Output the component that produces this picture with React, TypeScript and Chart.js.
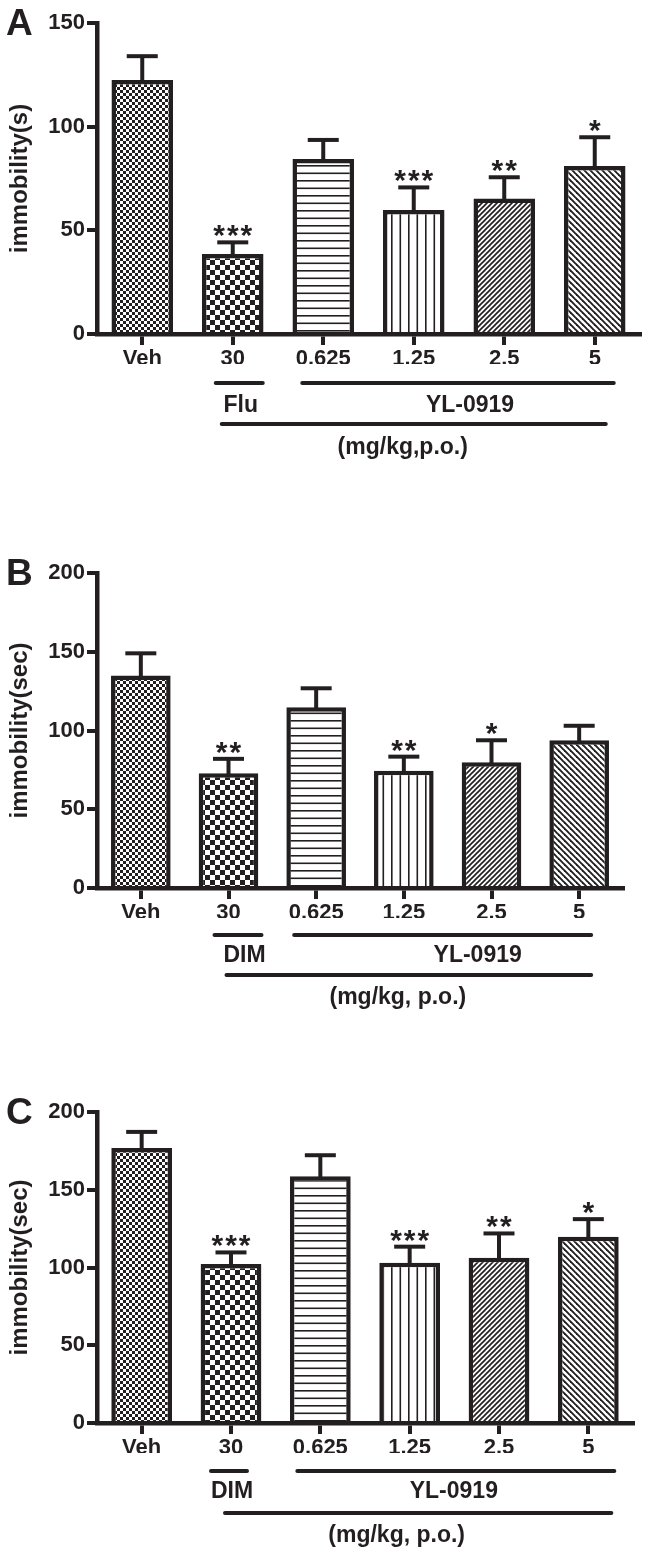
import React, { useEffect, useRef } from "react";
import { Chart, registerables } from "chart.js";

Chart.register(...registerables);

// ---------------- data ----------------
const categories = ["Veh", "30", "0.625", "1.25", "2.5", "5"];

const meansA = [122.5, 38.6, 84.4, 59.8, 65.4, 81.0];
const semA = [11.5, 5.6, 9.2, 10.9, 10.2, 13.9];
const starsA = ["", "***", "", "***", "**", "*"];
const yTicksA = [0, 50, 100, 150];

const meansB = [135.0, 72.8, 114.7, 74.5, 79.8, 93.8];
const semB = [14.0, 9.2, 12.1, 8.9, 14.0, 9.2];
const starsB = ["", "**", "", "**", "*", ""];
const yTicksB = [0, 50, 100, 150, 200];

const meansC = [176.9, 102.2, 158.7, 103.1, 106.3, 119.8];
const semC = [10.3, 7.5, 13.5, 10.3, 15.6, 11.3];
const starsC = ["", "***", "", "***", "**", "*"];
const yTicksC = [0, 50, 100, 150, 200];

const panelLetters = ["A", "B", "C"];
const yTitles = ["immobility(s)", "immobility(sec)", "immobility(sec)"];
const refDrugs = ["Flu", "DIM", "DIM"];
const testDrug = "YL-0919";
const unitLabels = ["(mg/kg,p.o.)", "(mg/kg, p.o.)", "(mg/kg, p.o.)"];

// ---------------- styling / layout ----------------
const INK = "#231f20";
const FONT = "'Liberation Sans', Arial, Helvetica, sans-serif";

const layouts = [
  { top: 0, height: 480, areaTop: 23, areaBottom: 334, areaRight: 640,
    shortL: -17, shortR: 30, ylL: -21, ylR: 19, longL: -11, longR: 11, drugDx: 8, ylDx: 12, unitDx: -11,
    lineDy: 49, drugDy: 72, longDy: 90, unitDy: 114 },
  { top: 540, height: 480, areaTop: 573, areaBottom: 888, areaRight: 623,
    shortL: -14, shortR: 33, ylL: -22, ylR: 12, longL: -2, longR: 12, drugDx: 16, ylDx: 35, unitDx: -6,
    lineDy: 47, drugDy: 68, longDy: 87, unitDy: 110 },
  { top: 1075, height: 478, areaTop: 1112, areaBottom: 1423, areaRight: 633,
    shortL: -20, shortR: 16, ylL: -23, ylR: 26, longL: -6, longR: 23, drugDx: 1, ylDx: -2, unitDx: -13,
    lineDy: 48, drugDy: 69, longDy: 90, unitDy: 113 },
];

function makePattern(kind: string): CanvasPattern | string {
  const c = document.createElement("canvas");
  const g = c.getContext("2d")!;
  const set = (w: number, h: number) => {
    c.width = w;
    c.height = h;
    g.fillStyle = "#ffffff";
    g.fillRect(0, 0, w, h);
    g.fillStyle = INK;
    g.strokeStyle = INK;
  };
  if (kind === "fineCheck") {
    set(6, 6);
    g.fillRect(0, 0, 3, 3);
    g.fillRect(3, 3, 3, 3);
  } else if (kind === "bigCheck") {
    set(10, 10);
    g.fillRect(0, 0, 5, 5);
    g.fillRect(5, 5, 5, 5);
  } else if (kind === "hlines") {
    set(4, 15);
    g.fillRect(0, 0, 4, 1.6);
    g.fillRect(0, 7.5, 4, 1.6);
  } else if (kind === "vlines") {
    set(17, 4);
    g.fillRect(0, 0, 1.6, 4);
    g.fillRect(8.5, 0, 1.6, 4);
  } else if (kind === "diagUp") {
    set(5, 5);
    g.lineWidth = 1.7;
    for (let k = -1; k <= 1; k++) {
      g.beginPath();
      g.moveTo(-2 + k * 5, 7);
      g.lineTo(7 + k * 5, -2);
      g.stroke();
    }
  } else if (kind === "diagDown") {
    set(6, 6);
    g.lineWidth = 1.9;
    for (let k = -1; k <= 1; k++) {
      g.beginPath();
      g.moveTo(-2 + k * 6, -2);
      g.lineTo(8 + k * 6, 8);
      g.stroke();
    }
  }
  const ctx = document.createElement("canvas").getContext("2d")!;
  return ctx.createPattern(c, "repeat") || "#888";
}

const patternKinds = ["fineCheck", "bigCheck", "hlines", "vlines", "diagUp", "diagDown"];

type PanelProps = {
  idx: number;
  means: number[];
  sem: number[];
  stars: string[];
  yTicks: number[];
};

function Panel({ idx, means, sem, stars, yTicks }: PanelProps) {
  const ref = useRef<HTMLCanvasElement>(null);
  const L = layouts[idx];

  useEffect(() => {
    const canvas = ref.current!;
    const xScaleH = 30;
    const areaTop = L.areaTop - L.top;
    const areaBottom = L.areaBottom - L.top;
    const padBottom = L.height - areaBottom - xScaleH;
    const yMax = yTicks[yTicks.length - 1];

    const extras = {
      id: "extras" + idx,
      afterDatasetsDraw(chart: any) {
        const ctx: CanvasRenderingContext2D = chart.ctx;
        const meta = chart.getDatasetMeta(0);
        const ys = chart.scales.y;
        ctx.save();
        meta.data.forEach((bar: any, i: number) => {
          const x = bar.x;
          const yTop = bar.y;
          const yErr = ys.getPixelForValue(means[i] + sem[i]);
          ctx.strokeStyle = INK;
          ctx.lineWidth = 4;
          ctx.lineCap = "butt";
          ctx.beginPath();
          ctx.moveTo(x, yTop + 2);
          ctx.lineTo(x, yErr);
          ctx.stroke();
          ctx.beginPath();
          ctx.moveTo(x - 15.5, yErr);
          ctx.lineTo(x + 15.5, yErr);
          ctx.stroke();
          if (stars[i]) {
            ctx.fillStyle = INK;
            ctx.font = `bold 30px ${FONT}`;
            (ctx as any).letterSpacing = "2px";
            ctx.textAlign = "center";
            ctx.textBaseline = "alphabetic";
            ctx.fillText(stars[i], x + 1, yErr + 3);
            (ctx as any).letterSpacing = "0px";
          }
        });
        ctx.restore();
      },
      afterDraw(chart: any) {
        const ctx: CanvasRenderingContext2D = chart.ctx;
        const xs = chart.scales.x;
        const area = chart.chartArea;
        const cx = (i: number) => xs.getPixelForValue(i);
        ctx.save();
        ctx.fillStyle = INK;
        // panel letter
        ctx.font = `bold 37px ${FONT}`;
        ctx.textAlign = "left";
        ctx.textBaseline = "alphabetic";
        ctx.fillText(panelLetters[idx], 6, area.top + 12);
        // group lines
        ctx.strokeStyle = INK;
        ctx.lineWidth = 4;
        ctx.lineCap = "round";
        const b = area.bottom;
        const line = (x1: number, x2: number, y: number) => {
          ctx.beginPath();
          ctx.moveTo(x1, y);
          ctx.lineTo(x2, y);
          ctx.stroke();
        };
        line(cx(1) + L.shortL, cx(1) + L.shortR, b + L.lineDy);
        const ylA = cx(2) + L.ylL;
        const ylB = cx(5) + L.ylR;
        line(ylA, ylB, b + L.lineDy);
        line(cx(1) + L.longL, cx(5) + L.longR, b + L.longDy);
        ctx.font = `bold 23px ${FONT}`;
        ctx.textAlign = "center";
        ctx.textBaseline = "middle";
        ctx.fillText(refDrugs[idx], cx(1) + L.drugDx, b + L.drugDy);
        ctx.fillText(testDrug, (ylA + ylB) / 2 + L.ylDx, b + L.drugDy);
        ctx.fillText(unitLabels[idx], cx(3) + L.unitDx, b + L.unitDy);
        ctx.restore();
      },
    };

    const chart = new Chart(canvas, {
      type: "bar",
      data: {
        labels: categories,
        datasets: [
          {
            data: means,
            backgroundColor: patternKinds.map((k) => makePattern(k)) as any,
            borderColor: INK,
            borderWidth: 4.5,
            borderSkipped: "start",
            barPercentage: 0.68,
            categoryPercentage: 1,
          },
        ],
      },
      options: {
        responsive: false,
        maintainAspectRatio: false,
        animation: false,
        devicePixelRatio: 1,
        layout: {
          padding: { top: areaTop, left: 6, right: 650 - L.areaRight, bottom: padBottom },
        },
        plugins: {
          legend: { display: false },
          tooltip: { enabled: false },
          title: { display: false },
        },
        scales: {
          x: {
            type: "category",
            offset: true,
            grid: {
              offset: false,
              drawOnChartArea: false,
              drawTicks: true,
              tickLength: 11,
              lineWidth: 4,
              color: INK,
            },
            border: { display: true, width: 4.5, color: INK },
            ticks: {
              color: INK,
              font: { family: FONT, size: 22, weight: "bold" },
              padding: 1,
              maxRotation: 0,
              autoSkip: false,
            },
            afterFit: (s: any) => {
              s.height = xScaleH;
            },
          },
          y: {
            min: 0,
            max: yMax,
            afterBuildTicks: (s: any) => {
              s.ticks = yTicks.map((v) => ({ value: v }));
            },
            grid: {
              drawOnChartArea: false,
              drawTicks: true,
              tickLength: 10,
              lineWidth: 4,
              color: INK,
            },
            border: { display: true, width: 4.5, color: INK },
            ticks: {
              color: INK,
              font: { family: FONT, size: 22, weight: "bold" },
              padding: 2,
              autoSkip: false,
            },
            title: {
              display: true,
              text: yTitles[idx],
              color: INK,
              font: { family: FONT, size: 24, weight: "bold" },
              padding: 0,
            },
            afterFit: (s: any) => {
              s.width = 91;
            },
          },
        },
      },
      plugins: [extras as any],
    });
    return () => chart.destroy();
  }, []);

  return (
    <canvas
      ref={ref}
      width={650}
      height={L.height}
      style={{ position: "absolute", left: 0, top: L.top, width: 650, height: L.height }}
    />
  );
}

export default function App() {
  return (
    <div style={{ position: "absolute", left: 0, top: 0, width: 650, height: 1553, background: "#ffffff" }}>
      <Panel idx={0} means={meansA} sem={semA} stars={starsA} yTicks={yTicksA} />
      <Panel idx={1} means={meansB} sem={semB} stars={starsB} yTicks={yTicksB} />
      <Panel idx={2} means={meansC} sem={semC} stars={starsC} yTicks={yTicksC} />
    </div>
  );
}
